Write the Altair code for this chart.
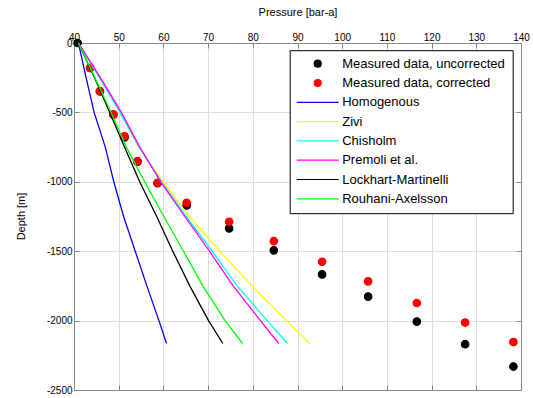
import altair as alt
import pandas as pd

# ---- data ----
unc_depth = [0, -180, -348, -516, -680, -855, -1010, -1170, -1336, -1494, -1667, -1827, -2007, -2170, -2331]
unc_pressure = [40.8, 43.6, 45.8, 48.8, 51.3, 54.2, 58.7, 65.2, 74.7, 84.7, 95.5, 105.8, 116.7, 127.5, 138.3]
cor_depth = [-180, -348, -516, -672, -852, -1007, -1151, -1288, -1427, -1576, -1717, -1873, -2014, -2154]
cor_pressure = [43.6, 45.8, 48.8, 51.3, 54.2, 58.7, 65.2, 74.7, 84.7, 95.5, 105.8, 116.7, 127.5, 138.3]

model_depth = [0, -250, -500, -750, -1000, -1250, -1500, -1750, -2000, -2165]
homogenous = [41.0, 42.7, 44.5, 47.0, 48.9, 51.1, 53.7, 56.3, 59.0, 60.7]
zivi = [41.0, 45.7, 50.3, 54.5, 59.9, 65.8, 72.6, 79.8, 87.5, 92.7]
chisholm = [41.0, 45.7, 50.3, 54.6, 59.6, 65.1, 70.9, 76.5, 83.2, 87.8]
premoli = [41.0, 45.9, 50.6, 54.7, 59.4, 64.8, 70.3, 75.6, 81.7, 85.8]
lockhart = [41.0, 44.6, 48.0, 51.3, 54.7, 58.5, 62.1, 65.9, 70.1, 73.3]
rouhani = [41.0, 44.7, 48.3, 51.7, 55.8, 60.1, 64.5, 68.8, 73.8, 77.7]

series_names = ["Measured data, uncorrected", "Measured data, corrected", "Homogenous", "Zivi",
                "Chisholm", "Premoli et al.", "Lockhart-Martinelli", "Rouhani-Axelsson"]
series_colors = ["#000000", "#FF0000", "#0000FF", "#FFFF00", "#00FFFF", "#FF00FF", "#000000", "#00FF00"]

# legend glyphs: filled circle for measured data, a horizontal line segment for the models
LINE_SYM = "M-6,0L6,0"
series_shapes = ["circle", "circle"] + [LINE_SYM] * 6

# ---- tables ----
pts = pd.concat([
    pd.DataFrame({"P": unc_pressure, "D": unc_depth, "series": series_names[0], "o": 0}),
    pd.DataFrame({"P": cor_pressure, "D": cor_depth, "series": series_names[1], "o": 1}),
], ignore_index=True)

model_vals = [homogenous, zivi, chisholm, premoli, lockhart, rouhani]
lines = pd.concat([
    pd.DataFrame({"P": v, "D": model_depth, "series": n, "i": list(range(len(model_depth)))})
    for n, v in zip(series_names[2:], model_vals)
], ignore_index=True)

FONT = "Liberation Sans"
FS = 13
xvals = list(range(40, 141, 10))
yvals = [0, -500, -1000, -1500, -2000, -2500]

xscale = alt.Scale(domain=[40, 140], nice=False, zero=False)
yscale = alt.Scale(domain=[-2500, 0], nice=False, zero=False)

leg = alt.Legend(title=None, orient="none", legendX=215.7, legendY=7.2,
                 fillColor="white", strokeColor="black", padding=7,
                 columns=1, rowPadding=5.3,
                 labelFont=FONT, labelFontSize=FS, labelColor="black",
                 symbolSize=49, symbolStrokeWidth=1.2, labelOffset=18, symbolOffset=14.5,
                 labelLimit=300)

fill_enc = alt.Fill("series:N", scale=alt.Scale(domain=series_names, range=series_colors), legend=leg)
stroke_enc = alt.Stroke("series:N", scale=alt.Scale(domain=series_names, range=series_colors), legend=leg)
shape_enc = alt.Shape("series:N", scale=alt.Scale(domain=series_names, range=series_shapes), legend=leg)

inward = {"expr": "-5"}

points = alt.Chart(pts).mark_point(filled=True, size=56, opacity=1, strokeWidth=1.2).encode(
    x=alt.X("P:Q", scale=xscale,
            axis=alt.Axis(orient="top", values=xvals, title="Pressure [bar-a]", tickSize=inward,
                          labelFlush=False, labelPadding=6, titleY=-31, titleBaseline="middle",
                          titleFontWeight="normal")),
    y=alt.Y("D:Q", scale=yscale,
            axis=alt.Axis(orient="left", values=yvals, title="Depth [m]", tickSize=inward,
                          labelFlush=False, labelPadding=7, labelExpr="'' + datum.value",
                          titleX=-53, titleY=173, titleBaseline="middle", titleFontWeight="normal")),
    fill=fill_enc,
    stroke=stroke_enc,
    shape=shape_enc,
    order=alt.Order("o:Q"),
)

model_lines = alt.Chart(lines).mark_line(strokeWidth=1.3).encode(
    x=alt.X("P:Q", scale=xscale,
            axis=alt.Axis(orient="bottom", values=xvals, title=None, labels=False, tickSize=inward)),
    y=alt.Y("D:Q", scale=yscale,
            axis=alt.Axis(orient="right", values=yvals, title=None, labels=False, tickSize=inward)),
    stroke=stroke_enc,
    order=alt.Order("i:Q"),
)

chart = alt.layer(points, model_lines).resolve_axis(x="independent", y="independent").properties(
    width=447, height=347,
    autosize=alt.AutoSizeParams(type="none"),
    padding={"left": 74, "top": 43, "right": 12, "bottom": 8},
).configure_axis(
    labelFont=FONT, labelFontSize=FS, labelColor="black",
    titleFont=FONT, titleFontSize=FS, titleColor="black",
    domainColor="black", tickColor="black", grid=False,
).configure_view(stroke=None).configure(background="white")

chart.save("out.html", embed_options={"renderer": "svg", "actions": False})
